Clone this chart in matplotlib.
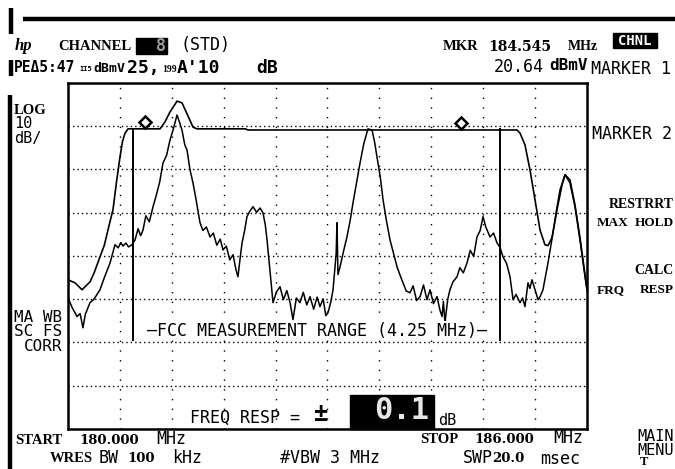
import numpy as np
import matplotlib.pyplot as plt
from matplotlib.lines import Line2D
from matplotlib.patches import Rectangle
from matplotlib.transforms import offset_copy

W, H = 675, 469

# sweep 180-186 MHz, 10 dB/div
f_start, f_stop = 180.0, 186.0
ref_top, db_div = 31.5, 10.0

# live sweep (MHz, dBmV)
live_trace = [
    (180.000, -18.2), (180.050, -20.5), (180.104, -22.5), (180.140, -21.8), (180.173, -25.1),
    (180.200, -22.0), (180.254, -19.3), (180.300, -18.5), (180.370, -16.3), (180.420, -13.5),
    (180.486, -10.1), (180.543, -5.9), (180.580, -6.6), (180.610, -5.4), (180.636, -6.2),
    (180.670, -5.5), (180.700, -6.4), (180.740, -5.9), (180.775, -4.8), (180.810, -2.2),
    (180.840, -3.8), (180.867, -2.5), (180.900, 0.8), (180.940, -0.6), (180.983, 2.9),
    (181.020, 5.5), (181.060, 8.6), (181.098, 13.0), (181.140, 14.8), (181.179, 18.3),
    (181.220, 21.0), (181.260, 24.1), (181.290, 22.4), (181.318, 20.6), (181.350, 17.2),
    (181.376, 16.0), (181.410, 11.5), (181.445, 8.4), (181.480, 4.6), (181.526, -0.8),
    (181.560, -2.6), (181.600, -1.8), (181.642, -4.1), (181.680, -3.2), (181.720, -6.0),
    (181.760, -4.6), (181.792, -7.1), (181.830, -6.2), (181.870, -9.4), (181.908, -8.2),
    (181.940, -11.5), (181.965, -13.3), (181.990, -9.0), (182.012, -5.5), (182.040, -2.8),
    (182.069, 0.6), (182.100, 1.8), (182.139, 2.9), (182.180, 1.6), (182.220, 2.6),
    (182.254, 1.5), (182.280, -1.2), (182.301, -4.8), (182.335, -12.0), (182.370, -19.3),
    (182.410, -16.8), (182.451, -15.6), (182.490, -18.6), (182.530, -16.5), (182.567, -19.3),
    (182.601, -23.2), (182.640, -18.2), (182.682, -19.3), (182.720, -16.9), (182.760, -19.8),
    (182.798, -17.9), (182.840, -20.8), (182.880, -18.0), (182.913, -20.2), (182.950, -18.4),
    (182.980, -22.3), (183.006, -21.6), (183.040, -19.0), (183.064, -16.3), (183.100, -8.0),
    (183.110, -0.8), (183.121, -12.8), (183.145, -11.0), (183.190, -7.0), (183.225, -4.1),
    (183.260, -0.5), (183.295, 3.8), (183.335, 8.4), (183.376, 13.0), (183.420, 17.5),
    (183.468, 20.9), (183.515, 20.6), (183.545, 17.8), (183.572, 14.4), (183.610, 9.8),
    (183.642, 4.5), (183.680, -0.2), (183.723, -4.8), (183.760, -7.6), (183.804, -11.0),
    (183.840, -13.0), (183.873, -14.7), (183.910, -16.6), (183.954, -17.0), (183.990, -15.4),
    (184.030, -18.8), (184.070, -17.9), (184.110, -15.2), (184.150, -18.6), (184.185, -16.3),
    (184.225, -19.5), (184.266, -17.9), (184.300, -21.0), (184.324, -22.5), (184.340, -19.0),
    (184.358, -23.9), (184.390, -18.5), (184.416, -16.3), (184.450, -14.5), (184.497, -13.3),
    (184.530, -11.2), (184.570, -12.4), (184.613, -10.1), (184.650, -7.2), (184.690, -8.6),
    (184.728, -4.1), (184.765, -2.6), (184.798, 0.6), (184.830, -1.8), (184.879, -4.1),
    (184.920, -3.2), (184.960, -5.5), (184.995, -6.5), (185.029, -8.7), (185.070, -10.2),
    (185.110, -13.3), (185.145, -18.6), (185.180, -17.4), (185.226, -19.3), (185.255, -18.2),
    (185.283, -20.2), (185.318, -14.7), (185.340, -16.0), (185.364, -14.0), (185.399, -16.3),
    (185.434, -18.6), (185.460, -17.8), (185.491, -16.3), (185.549, -10.1), (185.607, -3.1),
    (185.650, 2.4), (185.688, 6.8), (185.746, 10.3), (185.803, 8.4), (185.861, 2.9),
    (185.919, -4.8), (185.977, -13.3), (186.000, -16.3),
]

# max hold envelope (MHz, dBmV)
max_hold = [
    (180.000, -14.0), (180.081, -14.7), (180.162, -16.3), (180.254, -14.5), (180.300, -12.5),
    (180.370, -8.7), (180.420, -6.0), (180.480, -1.0), (180.520, 2.2), (180.560, 8.5),
    (180.601, 14.4), (180.630, 18.0), (180.659, 19.9), (180.694, 20.9), (181.064, 20.9),
    (181.121, 22.5), (181.179, 24.8), (181.260, 27.3), (181.318, 26.9), (181.387, 23.9),
    (181.445, 21.3), (181.491, 20.9), (182.050, 20.9), (182.080, 20.64), (185.191, 20.64),
    (185.226, 19.9), (185.283, 17.2), (185.341, 11.4), (185.399, 4.5), (185.457, -2.5),
    (185.514, -5.9), (185.549, -6.1), (185.595, -4.3), (185.653, 2.2), (185.711, 7.9),
    (185.746, 10.3), (185.803, 9.1), (185.861, 3.3), (185.919, -4.3), (185.977, -12.8),
    (186.000, -16.3),
]

marker_freqs = [180.890, 184.545]
marker_levels = [20.9, 20.64]

fcc_range = [180.75, 185.00]
fcc_bottom = -27.9

MONO = "DejaVu Sans Mono"
SERIF = "Liberation Serif"
NUMS = "DejaVu Serif"

fig = plt.figure(figsize=(W / 100, H / 100), dpi=100)
fig.patch.set_facecolor("white")


def put(x, y, s, **kw):
    kw.setdefault("va", "center")
    kw.setdefault("ha", "left")
    kw.setdefault("family", MONO)
    kw.setdefault("fontsize", 12)
    return fig.text(x / W, 1 - y / H, s, **kw)


def bar(x0, y0, x1, y1, lw):
    fig.add_artist(Line2D([x0 / W, x1 / W], [1 - y0 / H, 1 - y1 / H],
                          lw=lw, color="black", solid_capstyle="butt"))


def box(x0, y0, x1, y1):
    fig.add_artist(Rectangle((x0 / W, 1 - y1 / H), (x1 - x0) / W, (y1 - y0) / H,
                             transform=fig.transFigure, color="black", zorder=3))


# frame bars
bar(23, 19, W, 19, 3.2)
bar(11, 8, 11, 34, 3.2)
bar(11, 60, 11, 76, 3.2)
bar(10, 95, 10, 469, 3.2)

# graticule
ax = fig.add_axes([68 / W, 1 - 429 / H, 519 / W, 346 / H])
ax.set_xlim(f_start, f_stop)
ax.set_ylim(ref_top - 8 * db_div, ref_top)
ax.set_xticks(np.linspace(f_start, f_stop, 11))
ax.set_yticks(np.linspace(ref_top - 8 * db_div, ref_top, 9))
ax.tick_params(length=0, labelbottom=False, labelleft=False)
ax.xaxis.grid(True, color="black", lw=1.0, linestyle=(0, (1, 6)))
ax.yaxis.grid(True, color="black", lw=1.0, linestyle=(0, (1, 2.2)))
for sp in ax.spines.values():
    sp.set_linewidth(1.8)

live = np.array(live_trace)
hold = np.array(max_hold)
ax.plot(hold[:, 0], hold[:, 1], color="black", lw=1.2)
ax.plot(live[:, 0], live[:, 1], color="black", lw=1.1)

# FCC measurement range
for f in fcc_range:
    ax.plot([f, f], [fcc_bottom, 20.8], color="black", lw=1.4)
ax.text(np.mean(fcc_range), -25.8, "—FCC MEASUREMENT RANGE (4.25 MHz)—",
        ha="center", va="center", family=MONO, fontsize=12,
        bbox=dict(facecolor="white", edgecolor="none", pad=0.5))

# markers
above = offset_copy(ax.transData, fig=fig, x=0, y=7, units="dots")
ax.plot(marker_freqs, marker_levels, ls="none", marker="D", ms=6.5, mfc="white",
        mec="black", mew=1.8, transform=above)

# header
put(15, 46, "hp", family=SERIF, style="italic", weight="bold", fontsize=12)
put(58, 46, "CHANNEL", family=SERIF, weight="bold", fontsize=10.5)
box(136, 38, 167, 54)
put(156, 46, "8", color="#9a9a9a", fontsize=12, weight="bold")
put(181, 45, "(STD)")
put(443, 47, "MKR", family=SERIF, weight="bold", fontsize=10.5)
put(488, 47, "184.545", family=NUMS, weight="bold", fontsize=10)
put(568, 47, "MHz", family=SERIF, weight="bold", fontsize=10)
box(613, 33, 657, 48)
put(635, 41, "CHNL", color="white", ha="center", fontsize=10, weight="bold")
put(494, 67, "20.64")
put(549, 66, "dBmV", weight="bold", fontsize=11.5)
put(591, 69, "MARKER 1")

put(14, 68, "PEΔ5:47", weight="bold", fontsize=10.5)
put(79, 69, "II5", fontsize=5, weight="bold")
put(93, 68, "dBmV", weight="bold", fontsize=9.5)
put(127, 68, "25,", weight="bold", fontsize=13)
put(162, 69, "199", family=SERIF, fontsize=7, weight="bold")
put(177, 68, "A'10", weight="bold", fontsize=13)
put(256, 68, "dB", weight="bold", fontsize=13)

# left annotations
put(14, 110, "LOG", family=SERIF, weight="bold", fontsize=10.5)
put(14, 124, "10", fontsize=11)
put(14, 138, "dB/", fontsize=11)
put(14, 317, "MA WB", fontsize=11.5)
put(14, 331, "SC FS", fontsize=11.5)
put(24, 346, "CORR", fontsize=11.5)

# softkeys
put(592, 134, "MARKER 2")
put(674, 204, "RESTRRT", ha="right", family=SERIF, weight="bold", fontsize=10)
put(597, 223, "MAX", family=SERIF, weight="bold", fontsize=9.5)
put(674, 223, "HOLD", ha="right", family=SERIF, weight="bold", fontsize=9.5)
put(674, 271, "CALC", ha="right", family=SERIF, weight="bold", fontsize=10)
put(597, 290, "FRQ", family=SERIF, weight="bold", fontsize=9.5)
put(674, 290, "RESP", ha="right", family=SERIF, weight="bold", fontsize=9.5)
put(674, 436, "MAIN", ha="right", fontsize=11)
put(674, 450, "MENU", ha="right", fontsize=11)
put(640, 462, "T", family=SERIF, weight="bold", fontsize=9)

# frequency readout
put(15, 440, "START", family=SERIF, weight="bold", fontsize=10.5)
put(79, 440, "180.000", family=NUMS, weight="bold", fontsize=9.5)
put(156, 439, "MHz")
put(50, 458, "WRES", family=SERIF, weight="bold", fontsize=10.5)
put(99, 458, "BW")
put(127, 458, "100", family=NUMS, weight="bold", fontsize=9.5)
put(172, 458, "kHz")
put(280, 458, "#VBW 3 MHz")
put(420, 439, "STOP", family=SERIF, weight="bold", fontsize=10.5)
put(474, 439, "186.000", family=NUMS, weight="bold", fontsize=9.5)
put(553, 438, "MHz")
put(463, 458, "SWP")
put(492, 458, "20.0", family=NUMS, weight="bold", fontsize=9.5)
put(540, 459, "msec")

# frequency response readout
put(190, 418, "FREQ RESP =")
put(321, 414, "±", ha="center", fontsize=17, weight="bold")
box(350, 395, 434, 429)
put(402, 410, "0.1", ha="center", color="#e6e6e6", fontsize=22, weight="bold")
put(438, 420, "dB", fontsize=11)

fig.savefig("out.png", dpi=100)
